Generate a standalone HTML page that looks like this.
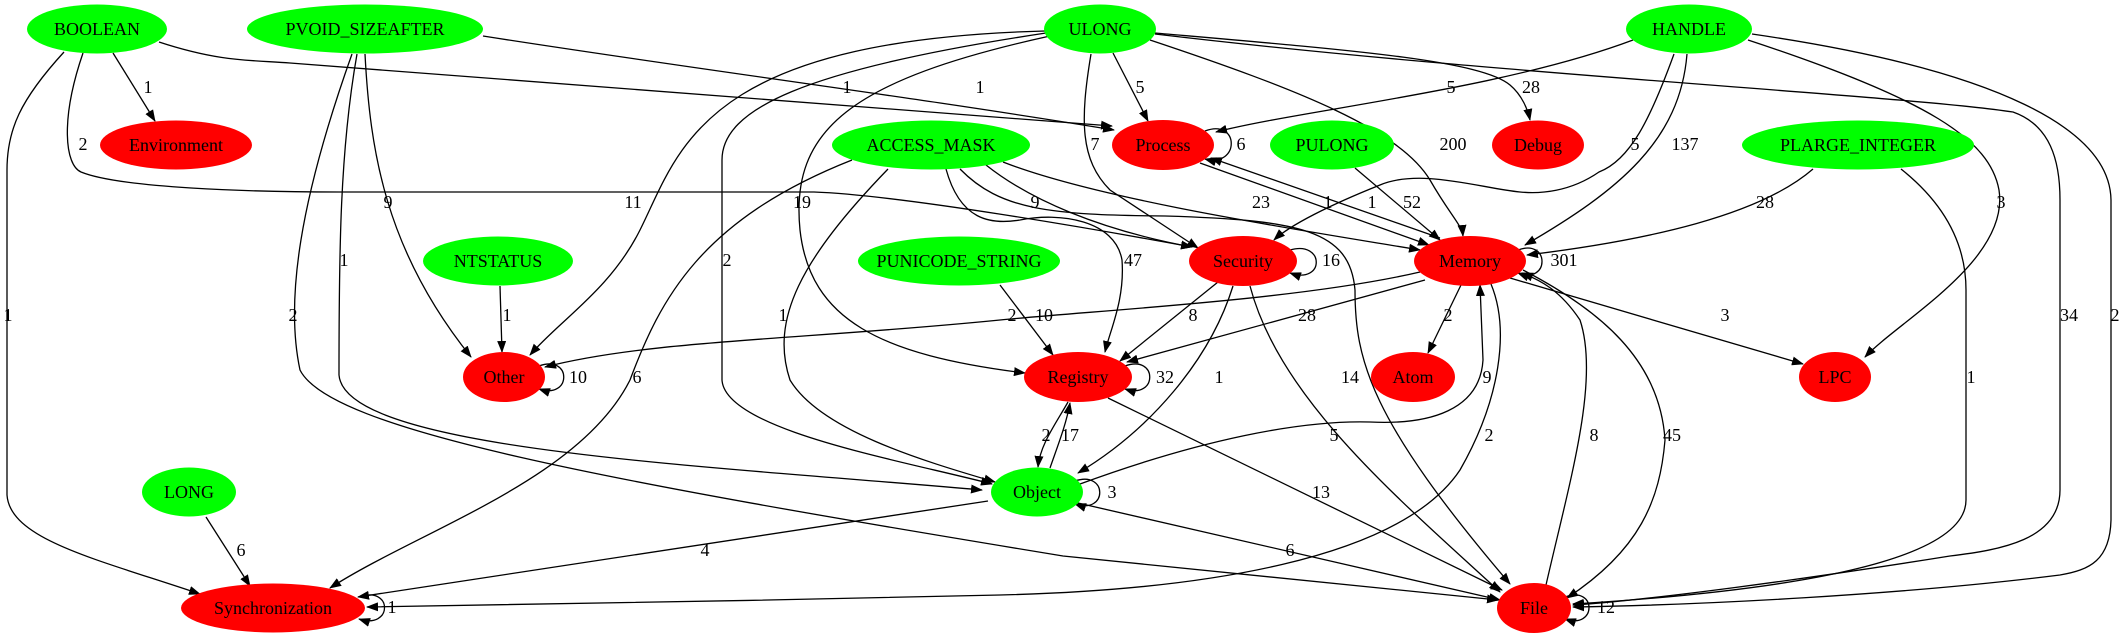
<!DOCTYPE html>
<html><head><meta charset="utf-8"><style>
html,body{margin:0;padding:0;background:#fff;width:2127px;height:639px;overflow:hidden}
svg{display:block}
text{font-family:"Liberation Serif",serif;font-size:18px;fill:#000}
.e{fill:none;stroke:#000;stroke-width:1.3}
</style></head><body>
<svg width="2127" height="639" viewBox="0 0 2127 639" xmlns="http://www.w3.org/2000/svg">
<defs><marker id="a" markerUnits="userSpaceOnUse" markerWidth="12" markerHeight="9" refX="11" refY="4.5" orient="auto"><path d="M0,0 L12,4.5 L0,9 z" fill="#000"/></marker></defs>
<g class="e" marker-end="url(#a)">
<path d="M113,53 L155,121"/>
<path d="M83,53 C60,120 65,165 81,172 C120,188 250,192 339,192 L814,192 C900,195 1100,230 1192,247"/>
<path d="M159,42 C220,62 250,60 290,63 L1112,126"/>
<path d="M483,36 C700,70 900,95 1114,130"/>
<path d="M365,54 C370,150 385,250 471,357"/>
<path d="M357,54 C340,150 339,250 339,375 C345,450 700,465 982,490"/>
<path d="M352,54 C300,200 285,300 300,370 C330,430 600,480 1063,556 L1498,600"/>
<path d="M64,52 C20,100 7,130 7,170 L7,495 C10,540 100,560 200,594"/>
<path d="M500,286 L502,352"/>
<path d="M1045,31 C700,40 680,150 640,230 C610,290 560,320 530,355"/>
<path d="M1050,36 C850,80 790,130 800,230 C810,320 880,355 1025,373"/>
<path d="M1046,33 C800,70 722,110 722,160 L722,380 C725,430 900,460 992,484"/>
<path d="M1113,53 L1148,121"/>
<path d="M1091,54 C1080,120 1080,160 1110,190 L1198,248"/>
<path d="M1150,40 C1300,90 1400,130 1430,180 C1450,215 1462,225 1463,236"/>
<path d="M1155,33 C1350,50 1480,60 1510,85 C1522,95 1528,110 1530,120"/>
<path d="M1155,34 C1500,75 1900,95 2013,112 C2050,125 2060,160 2060,200 L2060,490 C2060,540 2000,550 1950,556 C1800,580 1650,600 1573,605"/>
<path d="M1633,40 C1500,90 1300,110 1216,132"/>
<path d="M1674,54 C1650,120 1630,160 1599,172 C1570,192 1540,194 1520,192 C1480,188 1420,168 1380,185 C1330,205 1290,225 1274,240"/>
<path d="M1687,54 C1680,140 1620,190 1525,245"/>
<path d="M1748,40 C1930,100 1990,140 1999,190 C2010,260 1900,320 1865,357"/>
<path d="M1752,34 C2000,70 2110,130 2111,200 L2111,520 C2110,560 2090,570 2060,575 C1900,595 1700,605 1573,607"/>
<path d="M1813,169 C1760,215 1650,240 1527,255"/>
<path d="M1901,169 C1940,200 1966,240 1966,290 L1966,500 C1966,560 1800,590 1573,604"/>
<path d="M1355,168 L1440,240"/>
<path d="M1200,163 L1429,245"/>
<path d="M1440,238 L1211,158"/>
<path d="M1003,162 C1100,200 1300,230 1420,250"/>
<path d="M986,165 C1030,200 1100,230 1192,247"/>
<path d="M946,169 C960,220 990,225 1020,220 C1060,212 1115,220 1122,260 C1125,300 1110,330 1105,352"/>
<path d="M960,169 C1000,210 1050,215 1165,216 C1300,220 1350,230 1355,290 C1355,360 1370,420 1510,584"/>
<path d="M888,169 C800,260 770,320 790,380 C820,430 920,460 995,482"/>
<path d="M852,160 C700,220 660,300 630,380 C580,480 420,530 330,588"/>
<path d="M1000,285 L1053,355"/>
<path d="M1420,272 C1300,300 1100,310 1000,320 C800,340 650,340 545,367"/>
<path d="M1425,280 L1127,362"/>
<path d="M1461,285 L1428,353"/>
<path d="M1510,278 L1803,364"/>
<path d="M1491,284 C1510,330 1500,400 1460,470 C1400,560 1200,590 1000,595 C800,600 500,605 367,607"/>
<path d="M1218,282 L1120,361"/>
<path d="M1233,286 C1210,360 1150,430 1078,473"/>
<path d="M1250,286 C1280,400 1400,500 1500,592"/>
<path d="M1068,402 C1055,425 1040,445 1038,467"/>
<path d="M1050,468 C1058,445 1066,425 1070,403"/>
<path d="M1108,398 L1502,590"/>
<path d="M1080,484 C1200,440 1300,420 1370,422 C1430,425 1480,410 1483,360 L1480,285"/>
<path d="M1078,503 L1500,600"/>
<path d="M988,501 L358,597"/>
<path d="M206,517 L250,586"/>
<path d="M1546,585 C1570,480 1600,380 1580,320 C1560,290 1540,280 1522,273"/>
<path d="M1523,270 C1600,310 1660,360 1665,440 C1660,500 1640,550 1567,598"/>
<path d="M1205,131 C1240,118 1240,168 1205,159"/>
<path d="M1290,250 C1325,240 1325,285 1290,273"/>
<path d="M1518,250 C1550,238 1550,285 1518,273"/>
<path d="M1125,366 C1158,354 1158,400 1125,389"/>
<path d="M1075,481 C1108,470 1108,515 1075,504"/>
<path d="M1565,597 C1597,585 1597,630 1565,619"/>
<path d="M359,597 C393,585 393,630 359,619"/>
<path d="M539,366 C572,354 572,400 539,389"/>
</g>
<g>
<ellipse cx="97" cy="29" rx="70" ry="24.5" fill="#00ff00"/><text x="97" y="35" text-anchor="middle">BOOLEAN</text>
<ellipse cx="365" cy="29" rx="118" ry="24.5" fill="#00ff00"/><text x="365" y="35" text-anchor="middle">PVOID_SIZEAFTER</text>
<ellipse cx="1100" cy="29" rx="56" ry="24.5" fill="#00ff00"/><text x="1100" y="35" text-anchor="middle">ULONG</text>
<ellipse cx="1689" cy="29" rx="63" ry="24.5" fill="#00ff00"/><text x="1689" y="35" text-anchor="middle">HANDLE</text>
<ellipse cx="176" cy="145" rx="76" ry="24.5" fill="#ff0000"/><text x="176" y="151" text-anchor="middle">Environment</text>
<ellipse cx="931" cy="145" rx="99" ry="24.5" fill="#00ff00"/><text x="931" y="151" text-anchor="middle">ACCESS_MASK</text>
<ellipse cx="1163" cy="145" rx="51" ry="25" fill="#ff0000"/><text x="1163" y="151" text-anchor="middle">Process</text>
<ellipse cx="1332" cy="145" rx="62" ry="24.5" fill="#00ff00"/><text x="1332" y="151" text-anchor="middle">PULONG</text>
<ellipse cx="1538" cy="145" rx="46" ry="24.5" fill="#ff0000"/><text x="1538" y="151" text-anchor="middle">Debug</text>
<ellipse cx="1858" cy="145" rx="116" ry="24.5" fill="#00ff00"/><text x="1858" y="151" text-anchor="middle">PLARGE_INTEGER</text>
<ellipse cx="498" cy="261" rx="75" ry="24.5" fill="#00ff00"/><text x="498" y="267" text-anchor="middle">NTSTATUS</text>
<ellipse cx="959" cy="261" rx="101" ry="24.5" fill="#00ff00"/><text x="959" y="267" text-anchor="middle">PUNICODE_STRING</text>
<ellipse cx="1243" cy="261" rx="54" ry="25" fill="#ff0000"/><text x="1243" y="267" text-anchor="middle">Security</text>
<ellipse cx="1470" cy="261" rx="56" ry="25" fill="#ff0000"/><text x="1470" y="267" text-anchor="middle">Memory</text>
<ellipse cx="504" cy="377" rx="41" ry="25" fill="#ff0000"/><text x="504" y="383" text-anchor="middle">Other</text>
<ellipse cx="1078" cy="377" rx="54" ry="25" fill="#ff0000"/><text x="1078" y="383" text-anchor="middle">Registry</text>
<ellipse cx="1413" cy="377" rx="42" ry="25" fill="#ff0000"/><text x="1413" y="383" text-anchor="middle">Atom</text>
<ellipse cx="1835" cy="377" rx="36" ry="25" fill="#ff0000"/><text x="1835" y="383" text-anchor="middle">LPC</text>
<ellipse cx="189" cy="492" rx="47" ry="24.5" fill="#00ff00"/><text x="189" y="498" text-anchor="middle">LONG</text>
<ellipse cx="1037" cy="492" rx="46" ry="24.5" fill="#00ff00"/><text x="1037" y="498" text-anchor="middle">Object</text>
<ellipse cx="273" cy="608" rx="92" ry="24.5" fill="#ff0000"/><text x="273" y="614" text-anchor="middle">Synchronization</text>
<ellipse cx="1534" cy="608" rx="37" ry="25" fill="#ff0000"/><text x="1534" y="614" text-anchor="middle">File</text>
</g>
<g text-anchor="middle">
<text x="148" y="93">1</text><text x="83" y="150">2</text><text x="847" y="93">1</text><text x="980" y="93">1</text>
<text x="388" y="208">9</text><text x="633" y="208">11</text><text x="802" y="208">19</text><text x="344" y="266">1</text>
<text x="727" y="266">2</text><text x="1035" y="208">9</text><text x="8" y="321">1</text><text x="293" y="321">2</text>
<text x="507" y="321">1</text><text x="783" y="321">1</text><text x="1012" y="321">2</text><text x="1044" y="321">10</text>
<text x="1140" y="93">5</text><text x="1451" y="93">5</text><text x="1531" y="93">28</text><text x="1095" y="150">7</text>
<text x="1241" y="150">6</text><text x="1453" y="150">200</text><text x="1635" y="150">5</text><text x="1685" y="150">137</text>
<text x="1261" y="208">23</text><text x="1328" y="208">1</text><text x="1372" y="208">1</text><text x="1412" y="208">52</text>
<text x="1765" y="208">28</text><text x="2001" y="208">3</text><text x="1133" y="266">47</text><text x="1331" y="266">16</text>
<text x="1564" y="266">301</text><text x="1193" y="321">8</text><text x="1307" y="321">28</text><text x="1448" y="321">2</text>
<text x="1725" y="321">3</text><text x="2069" y="321">34</text><text x="2115" y="321">2</text>
<text x="578" y="383">10</text><text x="637" y="383">6</text><text x="1046" y="441">2</text><text x="241" y="556">6</text>
<text x="705" y="556">4</text><text x="392" y="613">1</text>
<text x="1165" y="383">32</text><text x="1219" y="383">1</text><text x="1350" y="383">14</text><text x="1487" y="383">9</text>
<text x="1971" y="383">1</text><text x="1070" y="441">17</text><text x="1334" y="441">5</text><text x="1489" y="441">2</text>
<text x="1594" y="441">8</text><text x="1672" y="441">45</text><text x="1112" y="498">3</text><text x="1321" y="498">13</text>
<text x="1290" y="556">6</text><text x="1606" y="613">12</text>
</g>
</svg>
</body></html>
